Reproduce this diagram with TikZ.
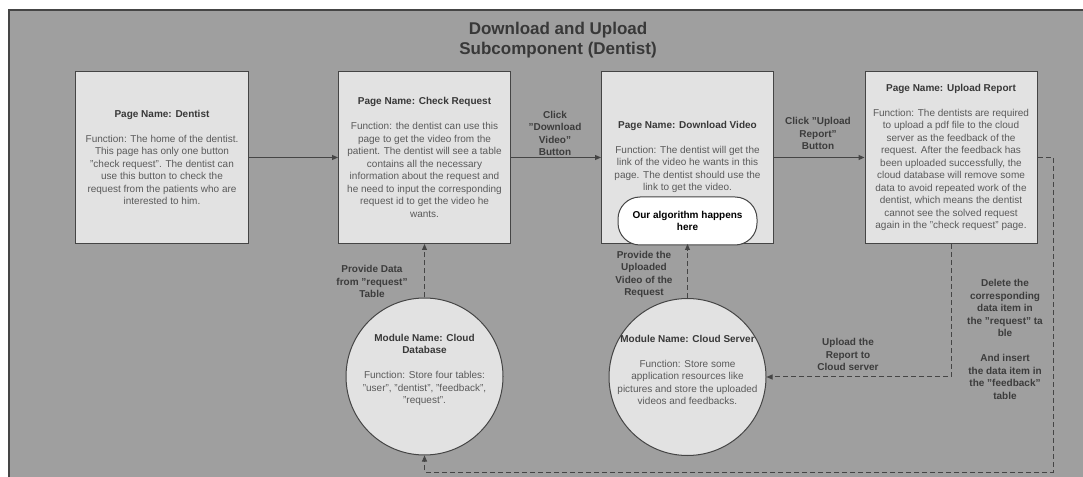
\documentclass[tikz,border=0pt]{standalone}
\usepackage{fontspec}
\setmainfont{Liberation Sans}
\usetikzlibrary{arrows.meta}
\definecolor{bgc}{HTML}{9F9F9F}
\definecolor{boxc}{HTML}{E2E2E2}
\definecolor{linec}{HTML}{454545}
\definecolor{hdc}{HTML}{383838}
\definecolor{bodyc}{HTML}{5A5A5A}
\definecolor{lblc}{HTML}{3C3C3C}
\tikzset{
  page/.style={draw=linec, line width=1bp, fill=boxc, minimum width=172bp, minimum height=172bp,
    inner sep=0pt, align=center, text=bodyc, font=\fontsize{10bp}{12.5bp}\selectfont},
  module/.style={draw=linec, line width=1bp, fill=boxc, circle, minimum size=157bp, inner sep=0pt},
  txt/.style={align=center, text=bodyc, font=\fontsize{10bp}{12.5bp}\selectfont, inner sep=0pt},
  lbl/.style={align=center, text=lblc, font=\fontsize{10bp}{12.5bp}\selectfont\bfseries, inner sep=0pt},
  arr/.style={draw=linec, line width=1bp, -{Triangle[length=6bp,width=5bp]}},
  darr/.style={draw=linec, line width=1bp, dash pattern=on 5bp off 3bp, -{Triangle[length=6bp,width=5bp]}},
  algo/.style={draw=linec, line width=1bp, fill=white, rounded corners=22bp, minimum width=139bp,
    minimum height=48bp, inner sep=0pt, align=center, text=black, font=\fontsize{10bp}{12.5bp}\selectfont\bfseries}
}
\newcommand{\hd}[1]{\textcolor{hdc}{\bfseries #1}}
\begin{document}
\begin{tikzpicture}[x=1bp,y=-1bp]
\useasboundingbox (0,0) rectangle (1083,477);
\clip (0,0) rectangle (1083,477);
\fill[white] (0,0) rectangle (1083,477);
\draw[draw=linec, line width=1.2bp, fill=bgc] (9,10) rectangle (1100,500);

\node[lbl, text=hdc, font=\fontsize{17bp}{20bp}\selectfont\bfseries] (title) at (558,40)
  {Download and Upload\\Subcomponent (Dentist)};

\node[page] (p1) at (162,157.5) {\hd{Page Name: Dentist}\\[12.5bp]
Function: The home of the dentist.\\
This page has only one button\\
"check request". The dentist can\\
use this button to check the\\
request from the patients who are\\
interested to him.};

\node[page] (p2) at (424.5,157.5) {\hd{Page Name: Check Request}\\[12.5bp]
Function: the dentist can use this\\
page to get the video from the\\
patient. The dentist will see a table\\
contains all the necessary\\
information about the request and\\
he need to input the corresponding\\
request id to get the video he\\
wants.};

\node[page] (p3) at (687.5,157.5) {};
\node[txt] (p3t) at (687.5,157) {\hd{Page Name: Download Video}\\[12.5bp]
Function: The dentist will get the\\
link of the video he wants in this\\
page. The dentist should use the\\
link to get the video.};
\node[algo] (algo) at (687.5,221) {Our algorithm happens\\here};

\node[page] (p4) at (951,157.5) {\hd{Page Name: Upload Report}\\[12.5bp]
Function: The dentists are required\\
to upload a pdf file to the cloud\\
server as the feedback of the\\
request. After the feedback has\\
been uploaded successfully, the\\
cloud database will remove some\\
data to avoid repeated work of the\\
dentist, which means the dentist\\
cannot see the solved request\\
again in the "check request" page.};

\node[module] (db) at (424.5,376.5) {};
\node[txt] (dbt) at (424.5,370) {\hd{Module Name: Cloud}\\\hd{Database}\\[12.5bp]
Function: Store four tables:\\
"user", "dentist", "feedback",\\
"request".};

\node[module] (srv) at (687.5,377) {};
\node[txt] (srvt) at (687.5,370) {\hd{Module Name: Cloud Server}\\[12.5bp]
Function: Store some\\
application resources like\\
pictures and store the uploaded\\
videos and feedbacks.};

\draw[arr] (p1) -- (p2);
\draw[arr] (p2.east) -- (p2.east -| p3.west);
\draw[arr] (p3.east) -- (p3.east -| p4.west);

\node[lbl] (l1) at (555,133.5) {Click\\"Download\\Video"\\Button};
\node[lbl] (l2) at (818,133.5) {Click "Upload\\Report"\\Button};

\draw[darr] (db.north) -- (db.north |- p2.south);
\node[lbl] (l3) at (372,281.5) {Provide Data\\from "request"\\Table};

\draw[darr] (srv.north) -- (srv.north |- p3.south);
\node[lbl] (l4) at (644,274.5) {Provide the\\Uploaded\\Video of the\\Request};

\draw[darr] (p4.south) |- (srv.east);
\node[lbl] (l5) at (848,354.5) {Upload the\\Report to\\Cloud server};

\coordinate (c1) at (1053,472);
\draw[darr] (p4.east) -| (c1) -| (db.south);
\node[lbl] (l6) at (1005,339.5) {Delete the\\corresponding\\data item in\\the "request" ta\\ble\\[12.5bp]And insert\\the data item in\\the "feedback"\\table};
\end{tikzpicture}
\end{document}
